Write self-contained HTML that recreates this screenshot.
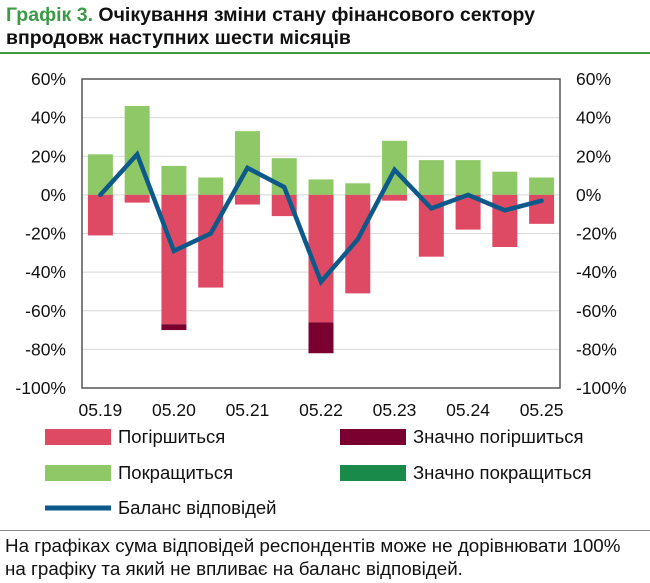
<!DOCTYPE html>
<html><head><meta charset="utf-8"><style>
body{margin:0;width:650px;height:583px;background:#fff;font-family:"Liberation Sans",Arial,sans-serif;overflow:hidden;position:relative}
.t{position:absolute;left:6px;top:4px;font-size:19.5px;font-weight:bold;line-height:23px;color:#111;white-space:nowrap}
.t span{color:#3a9a45}
.hl{position:absolute;left:0;width:650px;height:2px;background:#3a9a45}
.fn{position:absolute;left:5px;top:534px;font-size:18.8px;line-height:23px;color:#111;white-space:nowrap}
</style></head><body>
<div class="t"><span>Графік 3.</span> Очікування зміни стану фінансового сектору<br>впродовж наступних шести місяців</div>
<div class="hl" style="top:52px"></div>
<svg id="c" width="650" height="530" style="position:absolute;left:0;top:0"></svg>
<div class="hl" style="top:530px;height:1px;background:#888"></div>
<div class="fn">На графіках сума відповідей респондентів може не дорівнювати 100%<br>на графіку та який не впливає на баланс відповідей.</div>
<script>
const categories=["05.19","","05.20","","05.21","","05.22","","05.23","","05.24","","05.25"];
const worse=[-21,-4,-67,-48,-5,-11,-66,-51,-3,-32,-18,-27,-15];
const muchWorse=[0,0,-3,0,0,0,-16,0,0,0,0,0,0];
const better=[21,46,15,9,33,19,8,6,28,18,18,12,9];
const muchBetter=[0,0,0,0,0,0,0,0,0,0,0,0,0];
const balance=[0,21,-29,-20,14,4,-45,-23,13,-7,0,-8,-3];
const ticks=[60,40,20,0,-20,-40,-60,-80,-100];
const NS="http://www.w3.org/2000/svg",svg=document.getElementById('c');
const L=82,R=560,T=79,B=388,slot=(R-L)/categories.length,bw=25;
const y=v=>T+(60-v)/160*(B-T);
const x=i=>L+slot*(i+0.5);
function mk(t,a){const e=document.createElementNS(NS,t);for(const k in a)e.setAttribute(k,a[k]);svg.appendChild(e);return e;}
ticks.forEach(v=>{
 if(v!==60&&v!==-100){const g=mk('line',{x1:L,x2:R,y1:y(v),y2:y(v),stroke:'#d8d8d8','stroke-width':1});
 }
 const a=mk('text',{x:L-16,y:y(v)+6,'text-anchor':'end','font-size':17.5,fill:'#111'});a.textContent=v+'%';
 
 const b=mk('text',{x:R+16,y:y(v)+6,'text-anchor':'start','font-size':17.5,fill:'#111'});b.textContent=v+'%';
 
});
categories.forEach((c,i)=>{
 const bars=[[0,better[i],'#8fc866','better'],[better[i],better[i]+muchBetter[i],'#1a8a4a','much-better'],[0,worse[i],'#de4a64','worse'],[worse[i],worse[i]+muchWorse[i],'#7a0030','much-worse']];
 bars.forEach(([a,b,col,n])=>{if(a===b)return;
  const r=mk('rect',{x:x(i)-bw/2,y:Math.min(y(a),y(b)),width:bw,height:Math.abs(y(a)-y(b)),fill:col});
  });
 if(c){const t=mk('text',{x:x(i),y:B+28,'text-anchor':'middle','font-size':17.5,fill:'#111'});t.textContent=c;
 }
});
const fr=mk('rect',{x:L,y:T,width:R-L,height:B-T,fill:'none',stroke:'#555','stroke-width':1.5});

const ln=mk('polyline',{points:balance.map((v,i)=>x(i)+','+y(v)).join(' '),fill:'none',stroke:'#0d5a8a','stroke-width':4.5,'stroke-linejoin':'miter','stroke-linecap':'round'});

const leg=[[45,437,'#de4a64','Погіршиться','sw'],[340,437,'#7a0030','Значно погіршиться','sw'],[45,473,'#8fc866','Покращиться','sw'],[340,473,'#1a8a4a','Значно покращиться','sw'],[45,508,'#0d5a8a','Баланс відповідей','ln']];
leg.forEach(([lx,ly,col,lab,k])=>{
 const s=k==='sw'?mk('rect',{x:lx,y:ly-8,width:66,height:16,fill:col}):mk('rect',{x:lx,y:ly-2.5,width:66,height:5,fill:col});
 
 const t=mk('text',{x:lx+73,y:ly+6,'font-size':18.5,fill:'#111'});t.textContent=lab;
 
});
</script>
</body></html>
